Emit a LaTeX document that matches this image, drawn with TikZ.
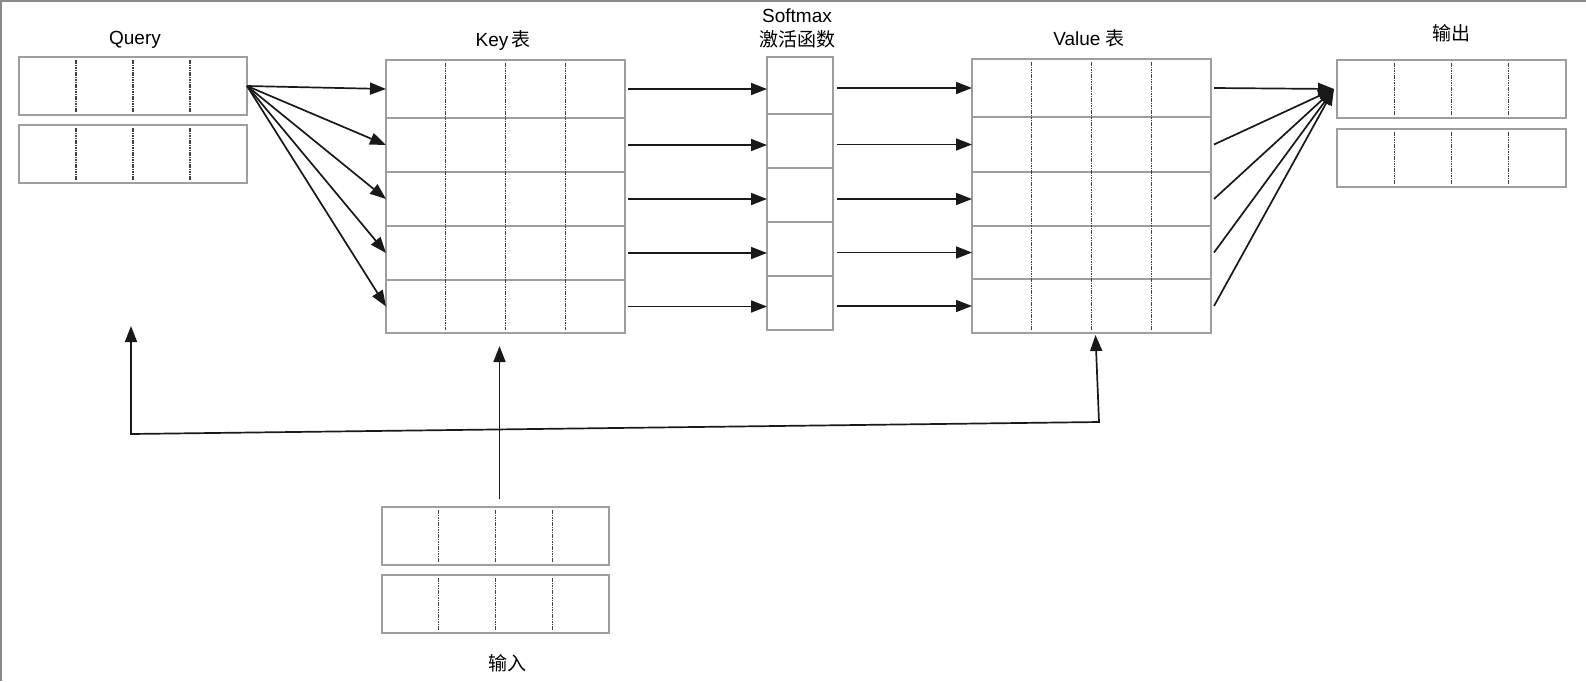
\documentclass[tikz,border=0pt]{standalone}
\usepackage{fontspec}
\setmainfont{Liberation Sans}
\newfontfamily\cjk{Noto Sans CJK SC}
\usetikzlibrary{arrows.meta,calc,fit}
\definecolor{boxgray}{HTML}{9E9E9E}
\definecolor{framegray}{HTML}{8A8A8A}
\begin{document}
\begin{tikzpicture}[x=1pt,y=-1pt,
		cell/.style={draw=boxgray, line width=1.6pt, inner sep=0pt, outer sep=0pt},
		divider/.style={draw=black!75, line width=1.1pt, dash pattern=on 1.6pt off 0.8pt},
		arr/.style={draw=black!90, line width=1.7pt, -{Triangle[length=16pt,width=12pt]}},
		lbl/.style={font=\fontsize{19}{23}\selectfont, inner sep=0pt, anchor=base}]
		\useasboundingbox (0,0) rectangle (1586,681);
		\draw [framegray, line width=1.5pt] (1,681) -- (1,1) -- (1586,1);
		\node [cell, fit={(19,57) (247,115)}] (q1) {};
		\node [cell, fit={(19,125) (247,183)}] (q2) {};
		\node [cell, fit={(1337,60) (1566,118)}] (o1) {};
		\node [cell, fit={(1337,129) (1566,187)}] (o2) {};
		\node [cell, fit={(382,507) (609,565)}] (i1) {};
		\node [cell, fit={(382,575) (609,633)}] (i2) {};
		\foreach \i/\ya/\yb in {1/60/118,2/118/172,3/172/226,4/226/280,5/280/333}
			\node [cell, fit={(386,\ya) (625,\yb)}] (k\i) {};
		\foreach \i/\ya/\yb in {1/57/114,2/114/168,3/168/222,4/222/276,5/276/330}
			\node [cell, fit={(767,\ya) (833,\yb)}] (s\i) {};
		\foreach \i/\ya/\yb in {1/59/117,2/117/172,3/172/226,4/226/279,5/279/333}
			\node [cell, fit={(972,\ya) (1211,\yb)}] (v\i) {};
		\foreach \n in {q1,q2,o1,o2,i1,i2}
			\foreach \f in {0.25,0.5,0.75}
				\draw [divider] ($(\n.north west)!\f!(\n.north east)+(0,3)$) -- ($(\n.south west)!\f!(\n.south east)+(0,-3)$);
		\foreach \t in {k,v}
			\foreach \f in {0.25,0.5,0.75}
				\draw [divider] ($(\t1.north west)!\f!(\t1.north east)+(0,3)$) -- ($(\t5.south west)!\f!(\t5.south east)+(0,-3)$);
		\node [lbl] (qlbl) at (135,44.5) {Query};
		\node [lbl] (klbl) at (503,46) {Key\hspace{3pt}{\cjk 表}};
		\node [lbl] (smlbl) at (797,22.5) {Softmax};
		\node [lbl] (actlbl) at (797,46) {\cjk 激活函数};
		\node [lbl] (vlbl) at (1089,45.5) {Value {\cjk 表}};
		\node [lbl] (olbl) at (1451,40) {\cjk 输出};
		\node [lbl] (ilbl) at (507,670) {\cjk 输入};
		\foreach \i in {1,...,5}
		{
			\draw [arr] (q1.east) -- (k\i.west);
			\draw [arr] ($(k\i.east)+(3,0)$) -- (k\i.east -| s\i.west);
			\draw [arr] ($(s\i.east |- v\i.west)+(4,0)$) -- (v\i.west);
			\draw [arr] ($(v\i.east)+(3,0)$) -- ($(o1.west)+(-3,0)$);
		}
		\draw [arr] ($(i1.north)+(4,-8)$) -- ($(k5.south)+(-6,13)$);
		\coordinate (qtip) at (131,326);
		\coordinate (lc) at (131,434);
		\coordinate (rc) at (1099,422);
		\draw [arr, {Triangle[length=16pt,width=12pt]}-{Triangle[length=16pt,width=12pt]}] (qtip) -- (lc) -- (rc) -- ($(v5.south)+(4,2)$);
	\end{tikzpicture}
\end{document}
